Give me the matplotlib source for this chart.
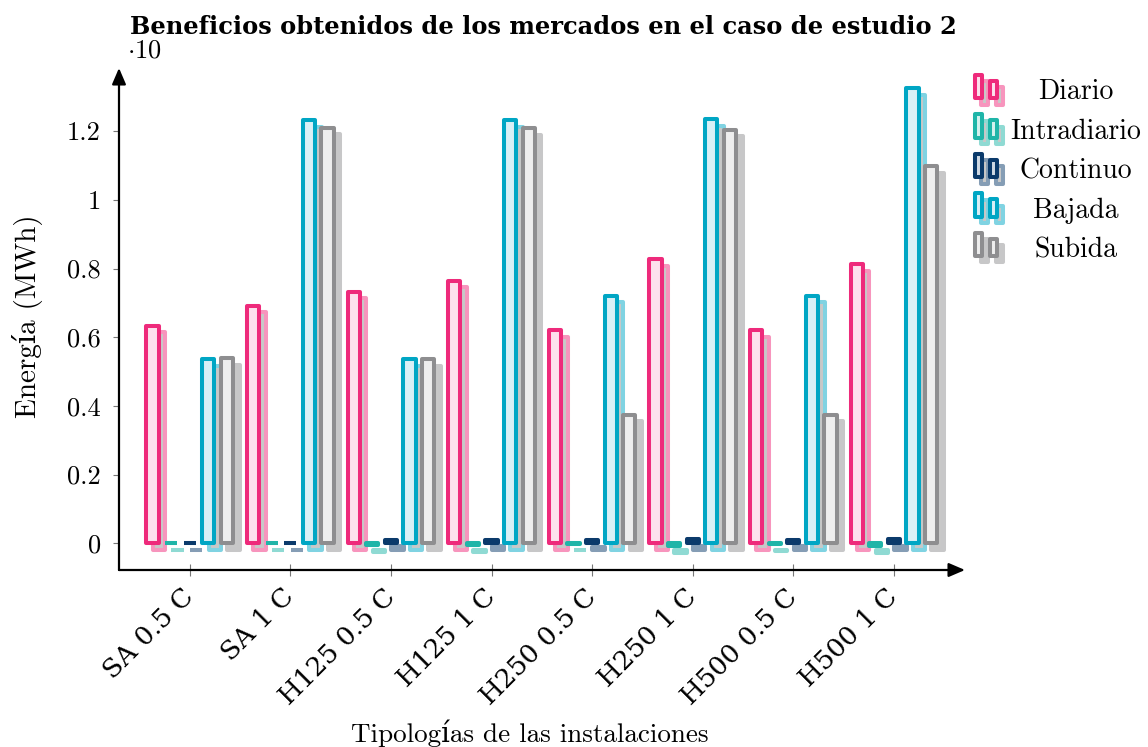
import numpy as np
import matplotlib
matplotlib.use("Agg")
import matplotlib.pyplot as plt
from matplotlib.patches import Rectangle
from matplotlib import transforms
from matplotlib.colors import to_rgb

# ---- data (energy, scaled by the axis multiplier) ----
categories = ["SA 0.5 C", "SA 1 C", "H125 0.5 C", "H125 1 C",
              "H250 0.5 C", "H250 1 C", "H500 0.5 C", "H500 1 C"]
diario = [0.633, 0.691, 0.733, 0.764, 0.620, 0.827, 0.620, 0.812]
intradiario = [0.0, 0.0, -0.005, -0.005, -0.002, -0.008, -0.003, -0.008]
continuo = [0.0, 0.0, 0.010, 0.010, 0.009, 0.012, 0.010, 0.012]
bajada = [0.536, 1.232, 0.536, 1.232, 0.720, 1.234, 0.720, 1.325]
subida = [0.539, 1.210, 0.536, 1.209, 0.374, 1.204, 0.374, 1.097]
series_names = ["Diario", "Intradiario", "Continuo", "Bajada", "Subida"]
yticks = [0, 0.2, 0.4, 0.6, 0.8, 1.0, 1.2]
ytick_labels = ["0", "0.2", "0.4", "0.6", "0.8", "1", "1.2"]

series = [diario, intradiario, continuo, bajada, subida]
edge_colors = ["#ee2a7b", "#1fb5a8", "#0b3a6b", "#00a6c4", "#8e8e90"]
face_colors = ["#fde0ed", "#d4f2ef", "#cfd9e4", "#d9f0f6", "#eeeeee"]
shadow_face = "#c8c8c8"


def lighten(c, amount=0.5):
    r, g, b = to_rgb(c)
    return (r + (1 - r) * amount, g + (1 - g) * amount, b + (1 - b) * amount)


W, H = 1148, 747
fig = plt.figure(figsize=(W / 100, H / 100), dpi=100)

serif_cm = ["cmr10", "DejaVu Serif"]
slab = ["DejaVu Serif"]
plt.rcParams["mathtext.fontset"] = "cm"
plt.rcParams["axes.unicode_minus"] = False

left_px, right_px, top_px, bottom_px = 119, 965, 68, 570
ax = fig.add_axes([left_px / W, 1 - bottom_px / H,
                   (right_px - left_px) / W, (bottom_px - top_px) / H])
ax.set_xlim(-0.703, 7.707)
ax.set_ylim(-0.0777, 1.3837)
for s in ax.spines.values():
    s.set_visible(False)

# axis lines with arrow heads
arrow_kw = dict(arrowstyle="-|>,head_length=0.7,head_width=0.3", lw=1.6,
                color="black", shrinkA=0, shrinkB=0, mutation_scale=14)
ax.annotate("", xy=(1, 0), xytext=(0, 0), xycoords="axes fraction",
            arrowprops=arrow_kw, annotation_clip=False)
ax.annotate("", xy=(0, 1), xytext=(0, 0), xycoords="axes fraction",
            arrowprops=arrow_kw, annotation_clip=False)

# bars with drop shadows
x = np.arange(len(categories))
pitch = 0.185
bar_w = 0.122
lw = 2.9
shadow_off = transforms.ScaledTranslation(6.5 / 100, -6.5 / 100, fig.dpi_scale_trans)
for k, vals in enumerate(series):
    xs = x + (k - 2) * pitch
    sh = ax.bar(xs, vals, width=bar_w, facecolor=shadow_face,
                edgecolor=lighten(edge_colors[k], 0.5), linewidth=lw, zorder=2)
    for p in sh:
        p.set_transform(ax.transData + shadow_off)
        p.set_joinstyle("round")
        p.set_clip_on(False)
for k, vals in enumerate(series):
    xs = x + (k - 2) * pitch
    bars = ax.bar(xs, vals, width=bar_w, facecolor=face_colors[k],
                  edgecolor=edge_colors[k], linewidth=lw, zorder=3)
    for p in bars:
        p.set_joinstyle("round")

# ticks
ax.set_xticks(x)
ax.set_xticklabels(categories, rotation=45, ha="right", va="center",
                   rotation_mode="anchor", fontsize=19, family=slab)
ax.set_yticks(yticks)
ax.set_yticklabels(ytick_labels, fontsize=19, family=serif_cm)
ax.tick_params(axis="x", direction="inout", length=9, width=0.8,
               color="#777777", pad=12)
ax.tick_params(axis="y", direction="out", length=4, width=0.8,
               color="#777777", pad=9)

# titles and labels
fig.text(543 / W, 1 - 27 / H,
         "Beneficios obtenidos de los mercados en el caso de estudio 2",
         ha="center", va="center", fontsize=17.4, fontweight="bold",
         family=slab, zorder=5)
fig.text(127 / W, 1 - 50 / H, r"$\cdot 10$", ha="left", va="center",
         fontsize=19, zorder=4)
fig.text(530 / W, 1 - 733 / H, "Tipologías de las instalaciones",
         ha="center", va="center", fontsize=19.5, family=serif_cm)
fig.text(28 / W, 1 - 316 / H, "Energía (MWh)", ha="center", va="center",
         rotation=90, fontsize=21, family=serif_cm)


# legend drawn in pixel space on the figure
def px_rect(x0, y0, x1, y1, **kw):
    # x0..x1 left to right, y0..y1 top to bottom (pixels from top-left)
    return Rectangle((x0 / W, 1 - y1 / H), (x1 - x0) / W, (y1 - y0) / H,
                     transform=fig.transFigure, **kw)


for k, name in enumerate(series_names):
    yc = 92 + 39.5 * k
    c = edge_colors[k]
    icon = [(975, yc - 17, 982, yc + 6), (990, yc - 11.5, 997, yc + 6)]
    for (x0, y0, x1, y1) in icon:
        r = px_rect(x0 + 6, y0 + 6.5, x1 + 6, y1 + 6.5, facecolor=shadow_face,
                    edgecolor=lighten(c, 0.5), linewidth=lw, joinstyle="round")
        fig.add_artist(r)
    for (x0, y0, x1, y1) in icon:
        r = px_rect(x0, y0, x1, y1, facecolor=face_colors[k],
                    edgecolor=c, linewidth=lw, joinstyle="round")
        fig.add_artist(r)
    fig.text(1076 / W, 1 - yc / H, name, ha="center", va="center",
             fontsize=20, family=serif_cm)

fig.savefig("out.png", dpi=100)
